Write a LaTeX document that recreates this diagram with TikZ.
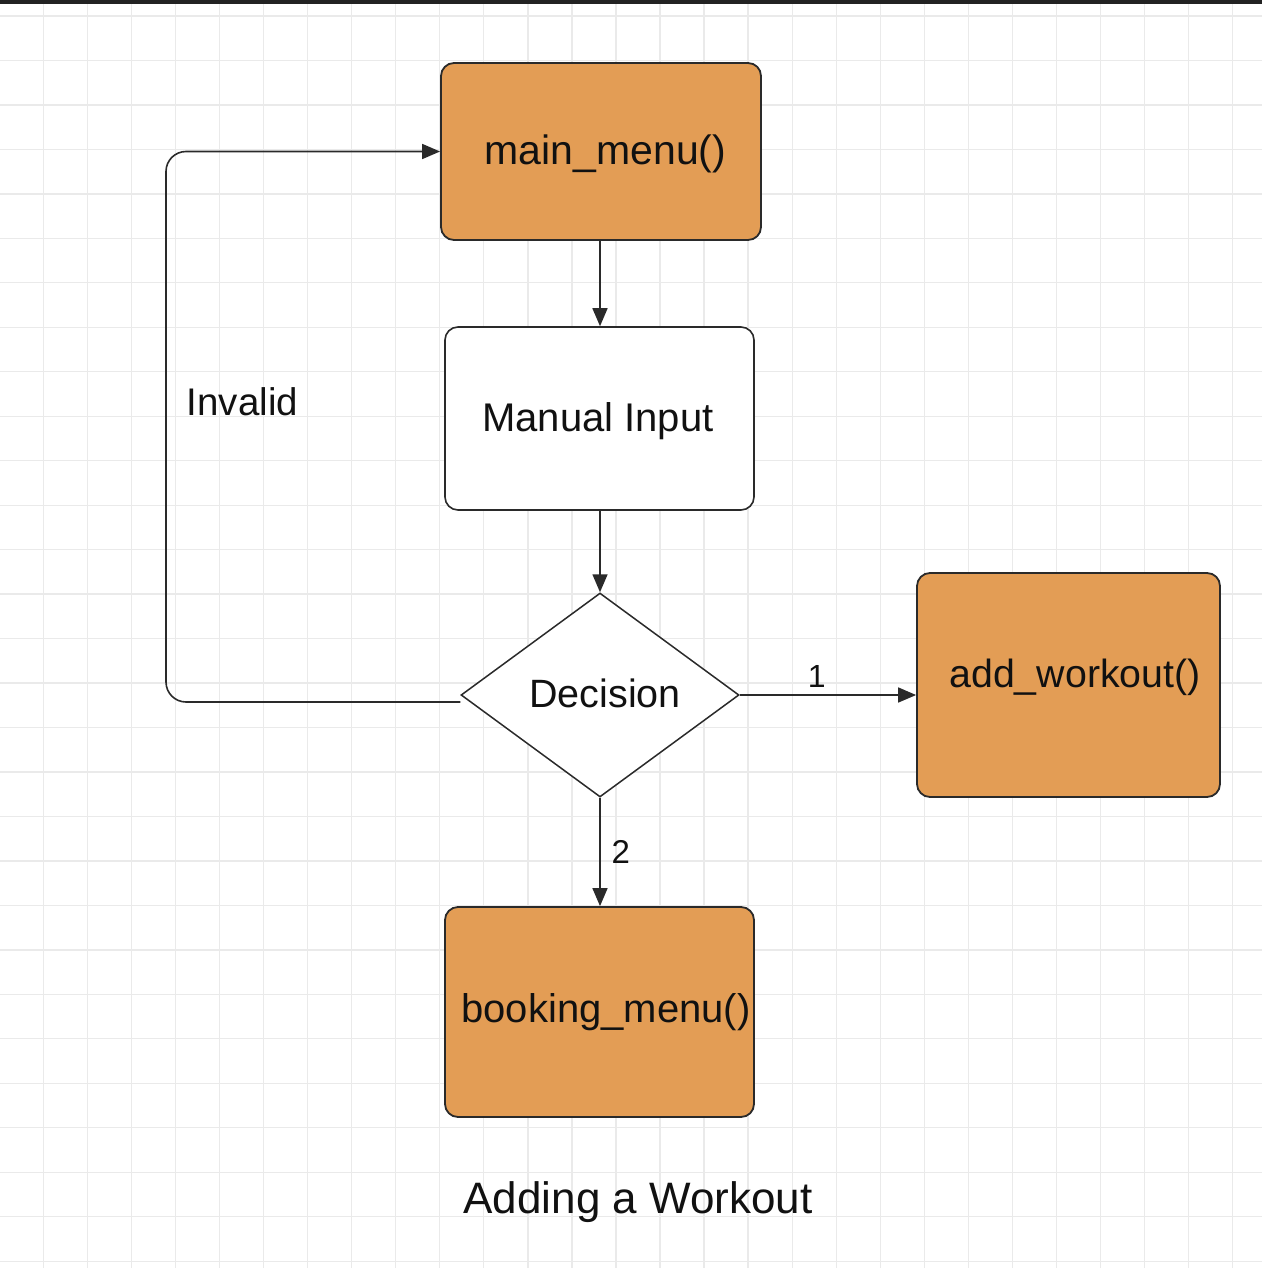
\documentclass[tikz,border=0pt]{standalone}
\usepackage{fontspec}
\setmainfont{Liberation Sans}
\usetikzlibrary{shapes.geometric,arrows.meta}
\definecolor{boxorange}{HTML}{E39D55}
\definecolor{edgedark}{HTML}{2A2A2A}
\definecolor{gridgray}{HTML}{EAEAEA}
\definecolor{topbar}{HTML}{222222}
\definecolor{inktext}{HTML}{111111}
\begin{document}
\begin{tikzpicture}[x=1pt,y=-1pt,
  fnbox/.style={draw=edgedark, line width=1.8pt, rounded corners=13pt, fill=boxorange, inner sep=0pt},
  inbox/.style={draw=edgedark, line width=1.6pt, rounded corners=13pt, fill=white, inner sep=0pt},
  conn/.style={draw=edgedark, line width=1.6pt, -{Triangle[width=15pt,length=18pt]}},
  txt/.style={anchor=base, inner sep=0pt, text=inktext},
  gridline/.style={draw=gridgray, line width=1.3pt}
]
% background and bounding box
\fill[white] (0,0) rectangle (1262,1268);
\useasboundingbox (0,0) rectangle (1262,1268);
% grid
\foreach \k in {0,...,27} {
  \draw[gridline] ({43.3+44.05*\k},0) -- ({43.3+44.05*\k},1268);
}
\foreach \k in {0,...,28} {
  \draw[gridline] (0,{16+44.47*\k}) -- (1262,{16+44.47*\k});
}
% top bar
\fill[topbar] (0,0) rectangle (1262,4);

% boxes
\node[fnbox, minimum width=320pt, minimum height=177pt] (mm) at (601,151.5) {};
\node[inbox, minimum width=309pt, minimum height=183pt] (mi) at (599.5,418.5) {};
\node[diamond, draw=edgedark, line width=1.5pt, fill=white, inner sep=0pt,
      aspect=1.36, minimum width=278pt, minimum height=204pt] (dec) at (600,695) {};
\node[fnbox, minimum width=303pt, minimum height=224pt] (aw) at (1068.5,685) {};
\node[fnbox, minimum width=309pt, minimum height=210pt] (bm) at (599.5,1012) {};

% box texts
\node[txt, font=\fontsize{41}{41}\selectfont] (mmt) at (605.5,165) {main\_menu()};
\node[txt, font=\fontsize{40}{40}\selectfont] (mit) at (598,431.7) {Manual Input};
\node[txt, font=\fontsize{39.5}{39.5}\selectfont] (dect) at (605,707.7) {Decision};
\node[txt, font=\fontsize{39.3}{39.3}\selectfont] (awt) at (1075,687.3) {add\_workout()};
\node[txt, font=\fontsize{40}{40}\selectfont] (bmt) at (606,1022.7) {booking\_menu()};

% connectors
\draw[conn] (mm.south -| 600,0) -- (mi.north -| 600,0);
\draw[conn] (mi.south -| 600,0) -- (dec.north);
\draw[conn] (dec.east) -- (dec.east -| aw.west);
\draw[conn] (dec.south) -- (dec.south |- bm.north);
\coordinate (lc) at (166,0);
\coordinate (dw) at ([yshift=-7pt]dec.west);
\draw[conn, rounded corners=20pt] (dw) -- (dw -| lc) -- (lc |- mm.west) -- (mm.west);

% labels
\node[txt, font=\fontsize{38.5}{38.5}\selectfont] (inv) at (242.5,415) {Invalid};
\node[txt, font=\fontsize{32}{32}\selectfont] (one) at (816.7,687) {1};
\node[txt, font=\fontsize{33}{33}\selectfont] (two) at (620.7,863) {2};
\node[txt, font=\fontsize{44}{44}\selectfont] (title) at (638,1213.3) {Adding a Workout};
\end{tikzpicture}
\end{document}
